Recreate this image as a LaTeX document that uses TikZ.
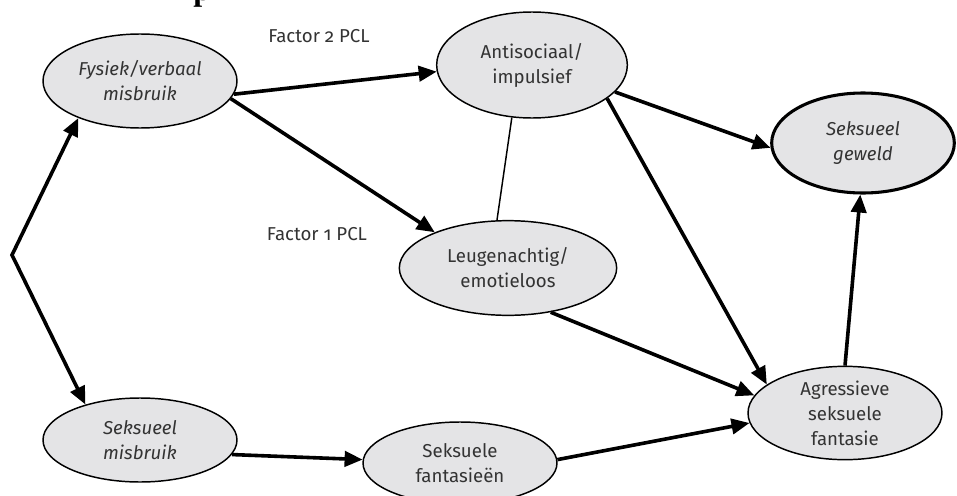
\documentclass[tikz,border=0pt]{standalone}
\usepackage{fontspec}
\setmainfont{Fira Sans}[Numbers=OldStyle]
\newfontfamily\headfont{Liberation Serif}
\usetikzlibrary{shapes.geometric,arrows.meta}
\definecolor{ellfill}{HTML}{E4E4E6}
\definecolor{txt}{HTML}{333333}
\begin{document}
\begin{tikzpicture}[x=0.75pt,y=-0.75pt,
  ell/.style={ellipse, draw=black, line width=1.1pt, fill=ellfill, inner sep=0pt,
    align=center, text=txt, font=\fontsize{14}{18.75}\selectfont},
  arr/.style={line width=2.7pt, -{Triangle[length=13.5pt,width=11.5pt]}},
  thinline/.style={line width=1.1pt},
  lbl/.style={text=txt, font=\fontsize{14}{17}\selectfont}]
\useasboundingbox (0,0) rectangle (957,496);
% cut-off heading fragment
\begin{scope}
  \clip (0,0) rectangle (957,8);
  \node[anchor=base west, inner sep=0pt, font=\headfont\bfseries\fontsize{24}{28}\selectfont] (head) at (193,1) {p};
\end{scope}
% nodes
\node[ell, minimum width=145.5pt, minimum height=70.5pt] (fys) at (140,81) {\itshape Fysiek/verbaal\\\itshape misbruik};
\node[ell, minimum width=143pt, minimum height=79.5pt] (anti) at (532,65) {Antisociaal/\\impulsief};
\node[ell, minimum width=137pt, minimum height=75pt, line width=2.3pt] (gew) at (863,143) {\itshape Seksueel\\\itshape geweld};
\node[ell, minimum width=163pt, minimum height=71pt] (leu) at (508,268) {Leugenachtig/\\emotieloos};
\node[ell, minimum width=145.5pt, minimum height=63pt] (smis) at (140,440) {\itshape Seksueel\\\itshape misbruik};
\node[ell, minimum width=145.5pt, minimum height=61.5pt] (sfan) at (460,463) {Seksuele\\fantasieën};
\node[ell, minimum width=145.5pt, minimum height=70pt] (agr) at (845,413) {Agressieve\\seksuele\\fantasie};
% labels
\node[lbl] (f2) at (319,36) {Factor 2 PCL};
\node[lbl] (f1) at (317,234) {Factor 1 PCL};
% connectors
\coordinate (v) at (12,255);
\draw[line width=2.7pt, line join=miter, {Triangle[length=13.5pt,width=11.5pt]}-{Triangle[length=13.5pt,width=11.5pt]}] (fys.211) -- (v) -- (smis.147);
\draw[arr] (fys.-8) -- (anti.184);
\draw[arr] (fys.-11) -- (leu.154);
\draw[thinline] (anti.249) -- (leu.103);
\draw[arr] (anti.-18) -- (gew.183);
\draw[arr] (anti.-24) -- (agr.160);
\draw[arr] (leu.-46) -- (agr.169);
\draw[arr] (sfan.2) -- (agr.186);
\draw[arr] (smis.-9) -- (sfan.178);
\draw[arr] (agr.90) -- (gew.-93);
\end{tikzpicture}
\end{document}
